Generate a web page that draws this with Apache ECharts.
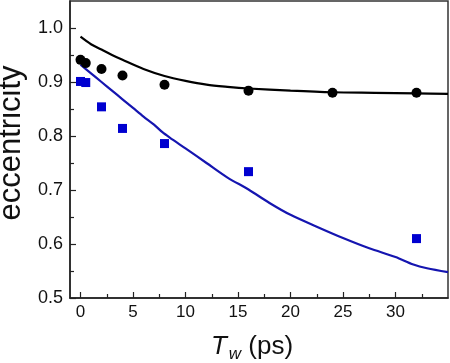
<!DOCTYPE html>
<html>
<head>
<meta charset="utf-8">
<script src="https://cdn.jsdelivr.net/npm/echarts@6/dist/echarts.min.js"></script>
<style>html,body{margin:0;padding:0;background:#fff}#c{width:450px;height:363px}</style>
</head>
<body>
<div id="c"></div>
<script>
// Data
var circleX = [0, 0.5, 2, 4, 8, 16, 24, 32];
var circleY = [0.941, 0.935, 0.924, 0.912, 0.895, 0.884, 0.880, 0.880];
var squareX = [0, 0.5, 2, 4, 8, 16, 32];
var squareY = [0.901, 0.899, 0.854, 0.814, 0.786, 0.734, 0.610];
var blackLineX = [0, 1, 2, 3, 4, 6, 8, 10, 12, 14, 16, 20, 24, 28, 32, 35];
var blackLineY = [0.984, 0.970, 0.960, 0.950, 0.941, 0.924, 0.911, 0.902, 0.895, 0.891, 0.888, 0.884, 0.881, 0.880, 0.879, 0.878];
var blueLineX = [0, 1, 2, 3, 4, 5, 6, 7, 7.8, 8.5, 10, 12, 14, 16, 18, 20, 22.5, 25, 27.5, 30, 31.7, 33, 35];
var blueLineY = [0.932, 0.916, 0.900, 0.884, 0.868, 0.852, 0.836, 0.821, 0.807, 0.797, 0.777, 0.750, 0.723, 0.701, 0.676, 0.654, 0.632, 0.611, 0.592, 0.576, 0.562, 0.555, 0.548];
var xTicks = [0, 5, 10, 15, 20, 25, 30];
var xMinorTicks = [2.5, 7.5, 12.5, 17.5, 22.5, 27.5, 32.5];
var yTicks = [0.5, 0.6, 0.7, 0.8, 0.9, 1.0];
var yMinorTicks = [0.55, 0.65, 0.75, 0.85, 0.95];

function zip(a, b) { return a.map(function (v, i) { return [v, b[i]]; }); }

var FONT = '"Liberation Sans", Arial, sans-serif';
var AX = '#222';
var chart = echarts.init(document.getElementById('c'), null, {renderer: 'canvas'});
chart.setOption({
  animation: false,
  grid: {left: 70, right: 2, top: 1, bottom: 65, show: true, borderColor: '#333', borderWidth: 1.5,
    containLabel: false, outerBoundsMode: 'none'},
  xAxis: [{
    type: 'value', min: -1, max: 35, position: 'bottom',
    name: '{i|T}{sub|w}{n| (ps)}', nameLocation: 'middle', nameGap: 33,
    nameTextStyle: {
      padding: [0, 14, 0, 0],
      rich: {
        i: {fontFamily: FONT, fontSize: 26, fontStyle: 'italic', color: '#111', lineHeight: 32, verticalAlign: 'middle'},
        sub: {fontFamily: FONT, fontSize: 17, fontStyle: 'italic', color: '#111', lineHeight: 32, verticalAlign: 'bottom', padding: [12, 0, 0, 2]},
        n: {fontFamily: FONT, fontSize: 26, color: '#111', lineHeight: 32, verticalAlign: 'middle'}
      }
    },
    axisLine: {onZero: false, lineStyle: {color: AX, width: 1.5}},
    axisTick: {inside: true, length: 6, lineStyle: {color: AX, width: 1.2}, customValues: xTicks},
    axisLabel: {customValues: xTicks, fontFamily: FONT, fontSize: 17, color: '#111', margin: 6},
    splitLine: {show: false}
  }, {
    type: 'value', min: -1, max: 35, position: 'bottom',
    axisLine: {show: false, onZero: false},
    axisTick: {inside: true, length: 4, lineStyle: {color: AX, width: 1.2}, customValues: xMinorTicks},
    axisLabel: {show: false},
    splitLine: {show: false}
  }],
  yAxis: [{
    type: 'value', min: 0.5, max: 1.05, position: 'left',
    name: 'eccentricity', nameLocation: 'middle', nameGap: 34,
    nameTextStyle: {fontFamily: FONT, fontSize: 31, color: '#111', padding: [0, 0, 0, 13]},
    axisLine: {onZero: false, lineStyle: {color: AX, width: 1.5}},
    axisTick: {inside: true, length: 6, lineStyle: {color: AX, width: 1.2}, customValues: yTicks},
    axisLabel: {customValues: yTicks, fontFamily: FONT, fontSize: 18, color: '#111', margin: 7,
      formatter: function (v) { return v.toFixed(1); }},
    splitLine: {show: false}
  }, {
    type: 'value', min: 0.5, max: 1.05, position: 'left', offset: 0,
    axisLine: {show: false, onZero: false},
    axisTick: {inside: true, length: 4, lineStyle: {color: AX, width: 1.2}, customValues: yMinorTicks},
    axisLabel: {show: false},
    splitLine: {show: false}
  }],
  series: [{
    type: 'line', data: zip(blackLineX, blackLineY), showSymbol: false, symbol: 'none', smooth: 0.3,
    lineStyle: {color: '#000', width: 2.2}, z: 2
  }, {
    type: 'line', data: zip(blueLineX, blueLineY), showSymbol: false, symbol: 'none', smooth: 0.3,
    lineStyle: {color: '#1515b0', width: 2.2}, z: 2
  }, {
    type: 'scatter', data: zip(circleX, circleY), symbol: 'circle', symbolSize: 10,
    itemStyle: {color: '#000', opacity: 1}, z: 3
  }, {
    type: 'scatter', data: zip(squareX, squareY), symbol: 'rect', symbolSize: 9,
    itemStyle: {color: '#0000d0', opacity: 1}, z: 3
  }]
});
</script>
</body>
</html>
